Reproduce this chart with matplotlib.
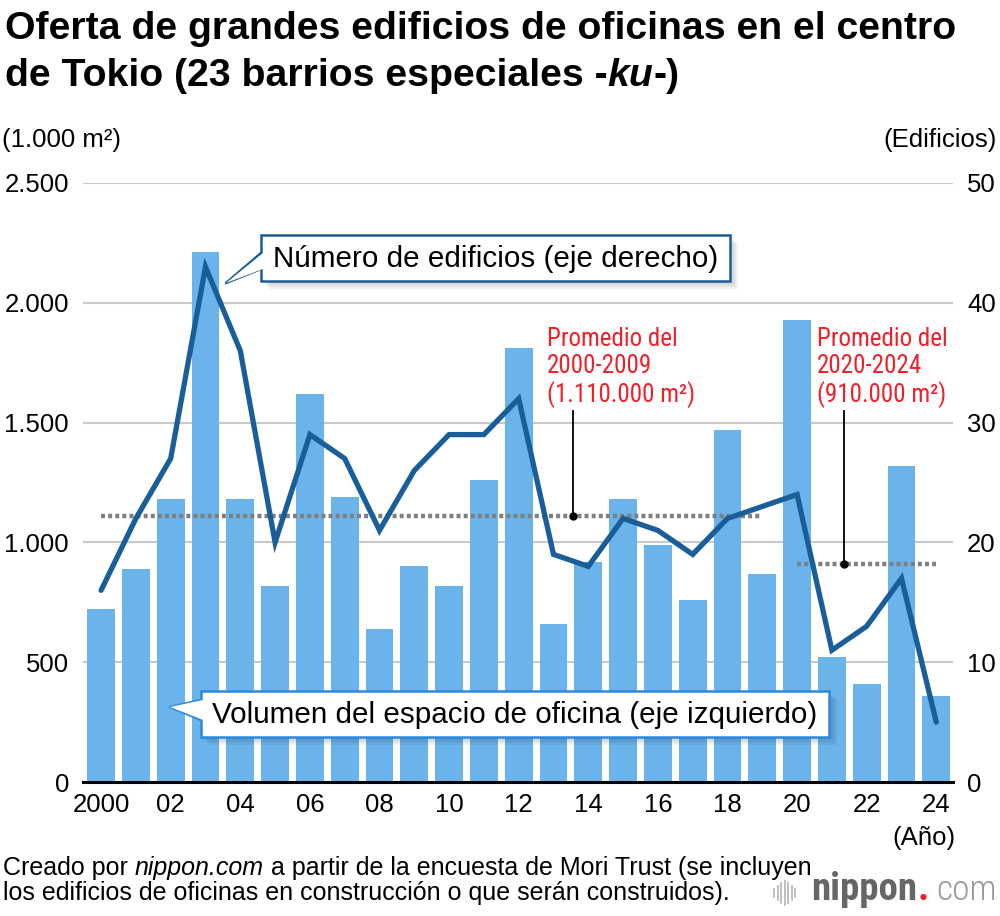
import matplotlib
matplotlib.use("Agg")
import matplotlib.pyplot as plt
from matplotlib.patches import Rectangle, Polygon
from matplotlib.lines import Line2D

# datos
years = list(range(2000, 2025))
volume = [720, 890, 1180, 2210, 1180, 820, 1620, 1190, 640, 900,
          820, 1260, 1810, 660, 920, 1180, 990, 760, 1470, 870,
          1930, 520, 410, 1320, 360]
buildings = [16, 22, 27, 43, 36, 20, 29, 27, 21, 26,
             29, 29, 32, 19, 18, 22, 21, 19, 22, 23,
             24, 11, 13, 17, 5]
xtick_years = years[::2]
xtick_labels = ["2000", "02", "04", "06", "08", "10", "12", "14", "16",
                "18", "20", "22", "24"]
left_ticks = [0, 500, 1000, 1500, 2000, 2500]
left_labels = ["0", "500", "1.000", "1.500", "2.000", "2.500"]
right_ticks = [0, 10, 20, 30, 40, 50]
avg1_span = (2000, 2019)
avg1_value = 1110
avg2_span = (2020, 2024)
avg2_value = 910

W, H = 1000, 916
plt.rcParams['font.family'] = ['Liberation Sans', 'DejaVu Sans']
NARROW = ['Roboto Condensed', 'DejaVu Sans Condensed', 'Liberation Sans Narrow',
          'Liberation Sans', 'DejaVu Sans']

fig = plt.figure(figsize=(W / 100, H / 100), dpi=100)


def px(x, y):
    return (x / W, 1 - y / H)


ax = fig.add_axes([83 / W, 1 - 782 / H, (953 - 83) / W, (782 - 183) / H])
ax2 = ax.twinx()

ax.set_axisbelow(True)
ax.bar(years, volume, width=0.8, color='#6bb4eb', zorder=2)
ax.set_ylim(0, 2500)
ax.set_xlim(1999.48, 2024.48)
ax.set_yticks(left_ticks)
ax.set_yticklabels(left_labels)
ax.yaxis.grid(True, color='#c9c9c9', lw=1.5)
ax.set_xticks(xtick_years)
ax.set_xticklabels(xtick_labels)
ax.tick_params(axis='both', length=0, labelsize=18.5, pad=10)
ax.tick_params(axis='x', pad=8)
for s in ['top', 'left', 'right']:
    ax.spines[s].set_visible(False)
ax.spines['bottom'].set_linewidth(2.2)
ax.spines['bottom'].set_zorder(3)

# promedios
ax.plot(avg1_span, [avg1_value] * 2, color='#7f7f7f', lw=3.2,
        ls=(0, (0.9, 0.7)), zorder=3)
ax.plot(avg2_span, [avg2_value] * 2, color='#7f7f7f', lw=3.2,
        ls=(0, (0.9, 0.7)), zorder=3)
ax.plot([2013.56, 2013.56], [avg1_value, 1550], color='black', lw=1.3, zorder=3)
ax.plot([2013.56], [avg1_value], 'o', color='black', ms=5, zorder=3)
ax.plot([2021.35, 2021.35], [avg2_value, 1550], color='black', lw=1.3, zorder=3)
ax.plot([2021.35], [avg2_value], 'o', color='black', ms=5, zorder=3)
ax.text(2012.81, 1900, "Promedio del\n2000-2009\n(1.110.000 m²)", color='#f0202a',
        fontsize=18, family=NARROW, va='top', ha='left', linespacing=1.15)
ax.text(2020.57, 1900, "Promedio del\n2020-2024\n(910.000 m²)", color='#f0202a',
        fontsize=18, family=NARROW, va='top', ha='left', linespacing=1.15)

ax2.plot(years, buildings, color='#1a5e99', lw=3.8, solid_capstyle='round',
         solid_joinstyle='miter', zorder=4)
ax2.set_ylim(0, 50)
ax2.set_yticks(right_ticks)
ax2.tick_params(axis='y', length=0, labelsize=18.5, pad=10)
for s in ['top', 'left', 'right', 'bottom']:
    ax2.spines[s].set_visible(False)

fig.canvas.draw()
r = fig.canvas.get_renderer()

# títulos y etiquetas
tfs = 28.3
fig.text(*px(5, 39), "Oferta de grandes edificios de oficinas en el centro",
         fontsize=tfs, fontweight='bold', va='baseline', ha='left')
x = 5
for part, st in [("de Tokio (23 barrios especiales -", 'normal'), ("ku", 'italic'),
                 ("-)", 'normal')]:
    t = fig.text(x / W, 1 - 86 / H, part, fontsize=tfs, fontweight='bold',
                 style=st, va='baseline', ha='left')
    x = t.get_window_extent(r).x1
fig.text(*px(2, 140), "(1.000 m²)", fontsize=18.5, va='center', ha='left')
fig.text(*px(997, 140), "(Edificios)", fontsize=18.5, va='center', ha='right')
fig.text(*px(955, 838), "(Año)", fontsize=18.5, va='center', ha='right')


def callout(x0, y0, x1, y1, tip, j1, j2, text, ec):
    for i in range(4):
        o = 2 + i * 2
        fig.patches.append(Rectangle(px(x0 + o, y1 + o), (x1 - x0) / W, (y1 - y0) / H,
                                     transform=fig.transFigure, fc='black', ec='none',
                                     alpha=0.05, zorder=5))
    fig.patches.append(Rectangle(px(x0, y1), (x1 - x0) / W, (y1 - y0) / H,
                                 transform=fig.transFigure, fc='white', ec=ec,
                                 lw=1.8, zorder=6))
    fig.patches.append(Polygon([px(x0 + 2, j1), px(*tip), px(x0 + 2, j2)],
                               closed=True, transform=fig.transFigure,
                               fc='white', ec='none', zorder=7))
    xs, ys = zip(*[px(x0, j1), px(*tip), px(x0, j2)])
    fig.lines.append(Line2D(xs, ys, transform=fig.transFigure, color=ec,
                            lw=1.8, zorder=7))
    fig.text(*px((x0 + x1) / 2, (y0 + y1) / 2 + 1), text, fontsize=21.3,
             ha='center', va='center', zorder=8)


callout(261, 235, 730, 281, (226, 283), 253, 269,
        "Número de edificios (eje derecho)", '#1c5c96')
callout(201, 691, 829, 737, (170, 707), 700, 720,
        "Volumen del espacio de oficina (eje izquierdo)", '#2a8ae0')

# fuente
fs = 18
t1 = fig.text(*px(3, 868), "Creado por ", fontsize=fs, va='center', ha='left')
x = t1.get_window_extent(r).x1
t2 = fig.text(x / W, 1 - 868 / H, "nippon.com", fontsize=fs, style='italic',
              va='center', ha='left')
x = t2.get_window_extent(r).x1
fig.text(x / W, 1 - 868 / H, " a partir de la encuesta de Mori Trust (se incluyen",
         fontsize=fs, va='center', ha='left')
fig.text(*px(3, 893), "los edificios de oficinas en construcción o que serán construidos).",
         fontsize=fs, va='center', ha='left')

# logo
heights = [8, 14, 20, 24, 20, 14, 8]
for i, h in enumerate(heights):
    fig.lines.append(Line2D([(774 + i * 3.5) / W] * 2,
                            [1 - (893 - h / 2) / H, 1 - (893 + h / 2) / H],
                            transform=fig.transFigure, color='#b5b5b5', lw=1.2))
lg = fig.text(*px(811, 890), "nippon", fontsize=28, color='#666666',
              va='center', ha='left', family=NARROW, fontweight='bold')
x = lg.get_window_extent(r).x1
fig.text((x + 1) / W, 1 - 890 / H, ".", fontsize=28, color='#e8202a',
         va='center', ha='left', family=NARROW, fontweight='bold')
fig.text(*px(997, 890), "com", fontsize=25.5, color='#9a9a9a',
         va='center', ha='right', family=NARROW, fontweight='light')

fig.savefig("out.png", dpi=100)
